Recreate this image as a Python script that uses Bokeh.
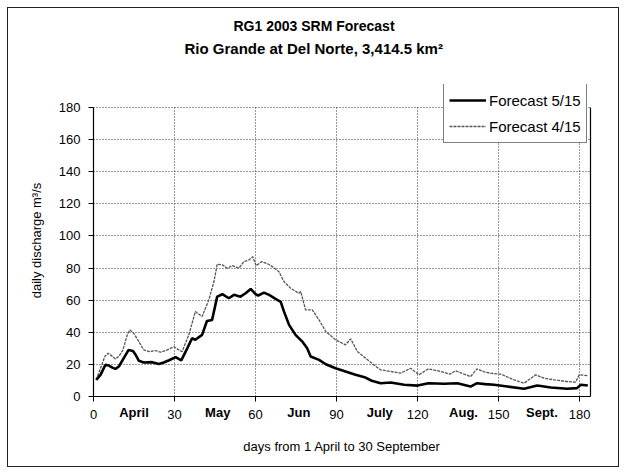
from bokeh.plotting import figure
from bokeh.models import Range1d, FixedTicker, Legend, LegendItem, LinearAxis, Title
from bokeh.embed import file_html
from bokeh.resources import INLINE

# ---- data ----
days_515 = [1, 2.6, 4.4, 5.7, 7, 8.1, 9.4, 11.2, 13, 14.6,
            15.6, 16.8, 18.6, 21.7, 24.2, 26, 28, 30.4, 32.5, 34.7,
            36.5, 37.7, 40.2, 42, 43.9, 45.8, 47.7, 50.1, 52, 54.4,
            56.3, 58.2, 60, 61, 63.1, 65, 67.4, 69.3, 70.5, 72.4,
            74.8, 77.3, 79.1, 80.4, 83.5, 86, 89.6, 93.3, 97, 100.7,
            103, 106.3, 110, 115, 120, 124, 129.7, 134.7, 139.6, 142,
            145, 148.3, 153.2, 159.4, 164.3, 169.3, 175.4, 179, 180.4, 183]
flow_515 = [10.4, 13.5, 19.7, 19.3, 18, 17.2, 18.7, 23.9, 29, 28.4,
            26, 22.2, 21.2, 21.4, 20.3, 21.2, 22.6, 24.5, 22.5, 30,
            36.3, 35.3, 38.4, 47, 47.7, 62.2, 63.7, 61.2, 63.3, 62.2,
            64.3, 67, 63.7, 62.9, 64.7, 63.3, 60.8, 59, 53, 44.6,
            38.4, 34.2, 30, 24.9, 22.8, 20.1, 17.6, 15.6, 13.5, 11.8,
            9.8, 8.3, 8.7, 7.3, 6.8, 8.3, 7.9, 8.3, 6.2, 8.3,
            7.7, 7.3, 6.2, 4.8, 6.8, 5.6, 4.8, 5.2, 7.3, 6.8]

days_415 = [1, 2.6, 4.2, 5.4, 7, 8.1, 9.4, 10.9, 12.5, 13.5,
            14.9, 16.8, 18.6, 20.5, 23, 24.8, 27.3, 29.8, 31.6, 32.8,
            35.3, 37.7, 40.2, 42.7, 44.6, 45.8, 47.7, 49.5, 51.4, 53.8,
            55.7, 57.5, 59, 60.2, 62.3, 64.8, 66.2, 68.6, 70.5, 73,
            76, 76.7, 78.5, 81, 83.5, 86, 89.6, 93.3, 95.2, 97.7,
            100.7, 103.8, 106.3, 110, 113.7, 117.4, 120.5, 124, 128.5, 132,
            134, 139.6, 142, 145, 147, 150.8, 155.7, 159.4, 163.7, 166.8,
            170.5, 175.4, 178.5, 179.8, 183]
flow_415 = [10.4, 17.6, 25, 27, 25, 23.4, 25, 29, 38.4, 41.5,
            39.4, 34.2, 29, 28, 28.6, 27.6, 29, 31, 29, 28,
            38.4, 52.9, 49.8, 60.2, 71.6, 82.4, 82, 79.9, 81.5, 79.9,
            84, 85, 87, 81.5, 84, 82.4, 80.9, 77.8, 71.6, 67.4,
            64.3, 65.4, 54, 54, 47.7, 40.5, 35.3, 32.2, 35.9, 28,
            23.9, 19.7, 16.6, 15.6, 14.5, 17.6, 13.5, 17.2, 15.6, 13.9,
            16, 12.4, 17.2, 15.1, 14.5, 13.9, 10.4, 8.3, 13.5, 11.4,
            10.4, 9.3, 8.9, 13.5, 13]

x_ticks = [0, 30, 60, 90, 120, 150, 180]
y_ticks = [0, 20, 40, 60, 80, 100, 120, 140, 160, 180]
y_max = 180
month_names = ["April", "May", "Jun", "July", "Aug.", "Sept."]
month_days = [15, 46, 76, 106, 137, 166]

title_1 = "RG1 2003 SRM Forecast"
title_2 = "Rio Grande at Del Norte, 3,414.5 km\u00b2"
x_title = "days from 1 April to 30 September"
y_title = "daily discharge m\u00b3/s"
series_names = ["Forecast 5/15", "Forecast 4/15"]

FONT = "Liberation Sans"

# frame extends a little above 180 so that the legend (which overhangs the
# plot area in the original) is not clipped; axes/grid are bounded to 0..180
p = figure(frame_width=497, frame_height=312, title=None,
           min_border_left=85, min_border_right=28,
           min_border_top=76, min_border_bottom=70,
           x_range=Range1d(0, 184), y_range=Range1d(0, y_max * 312 / 289),
           output_backend="svg", toolbar_location=None,
           background_fill_color="white", border_fill_color="white")
p.styles = {"border": "1px solid #222", "margin-left": "7px", "margin-top": "7px"}
p.outline_line_color = None

# axes
for ax in (p.xaxis[0], p.yaxis[0]):
    ax.axis_line_color = "black"
    ax.axis_line_width = 1.2
    ax.major_tick_line_color = "black"
    ax.major_tick_out = 5
    ax.major_tick_in = 0
    ax.minor_tick_line_color = None
    ax.major_label_text_font = FONT
    ax.major_label_text_font_size = "13px"
    ax.major_label_text_color = "black"
    ax.axis_label_text_font = FONT
    ax.axis_label_text_font_size = "13px"
    ax.axis_label_text_font_style = "normal"
    ax.axis_label_text_color = "black"

p.xaxis[0].ticker = FixedTicker(ticks=x_ticks)
p.yaxis[0].ticker = FixedTicker(ticks=y_ticks)
p.yaxis[0].bounds = (0, y_max)
p.xaxis[0].major_label_standoff = 8
p.yaxis[0].major_label_standoff = 8
p.yaxis[0].axis_label = y_title
p.yaxis[0].axis_label_standoff = 12

# month names as a second, overlapping bottom axis with bold labels
months_axis = LinearAxis(ticker=FixedTicker(ticks=month_days),
                         major_label_overrides={d: n for d, n in zip(month_days, month_names)},
                         axis_line_color=None, major_tick_line_color=None,
                         minor_tick_line_color=None,
                         major_label_standoff=-23,
                         major_label_text_font=FONT, major_label_text_font_size="13px",
                         major_label_text_font_style="bold", major_label_text_color="black",
                         axis_label=x_title, axis_label_standoff=16,
                         axis_label_text_font=FONT, axis_label_text_font_size="13px",
                         axis_label_text_font_style="normal", axis_label_text_color="black")
p.add_layout(months_axis, "below")

right = LinearAxis(ticker=FixedTicker(ticks=[]), major_label_text_font_size="0px",
                   major_tick_line_color=None, minor_tick_line_color=None,
                   axis_line_color="black", axis_line_width=1.2, bounds=(0, y_max))
p.add_layout(right, "right")

# titles (inner spacer, then line 2, then line 1)
p.add_layout(Title(text=" ", standoff=9, text_font=FONT, text_font_size="13px"), "above")
p.add_layout(Title(text=title_2, align="left", offset=91, standoff=4,
                   text_font=FONT, text_font_size="15px", text_font_style="bold",
                   text_color="black"), "above")
p.add_layout(Title(text=title_1, align="left", offset=140, standoff=3,
                   text_font=FONT, text_font_size="14px", text_font_style="bold",
                   text_color="black"), "above")

p.xgrid.grid_line_color = "#333333"
p.xgrid.grid_line_dash = "1 2"
p.xgrid.cross_bounds = (0, y_max)
p.ygrid.grid_line_color = "#333333"
p.ygrid.grid_line_dash = "1 2"

r415 = p.line(days_415, flow_415, line_color="#555555", line_width=1.3, line_dash="3 1")
r515 = p.line(days_515, flow_515, line_color="black", line_width=2.6)

legend = Legend(items=[LegendItem(label=series_names[0], renderers=[r515]),
                       LegendItem(label=series_names[1], renderers=[r415])],
                location=(350, 253))
legend.border_line_color = "black"
legend.border_line_width = 1
legend.background_fill_color = "white"
legend.background_fill_alpha = 1
legend.label_text_font = FONT
legend.label_text_font_size = "15px"
legend.label_text_color = "black"
legend.glyph_width = 37
legend.glyph_height = 22
legend.label_height = 22
legend.label_standoff = 3
legend.spacing = 4
legend.padding = 5
legend.margin = 0
p.add_layout(legend, "center")

open("out.html", "w").write(file_html(p, INLINE))
